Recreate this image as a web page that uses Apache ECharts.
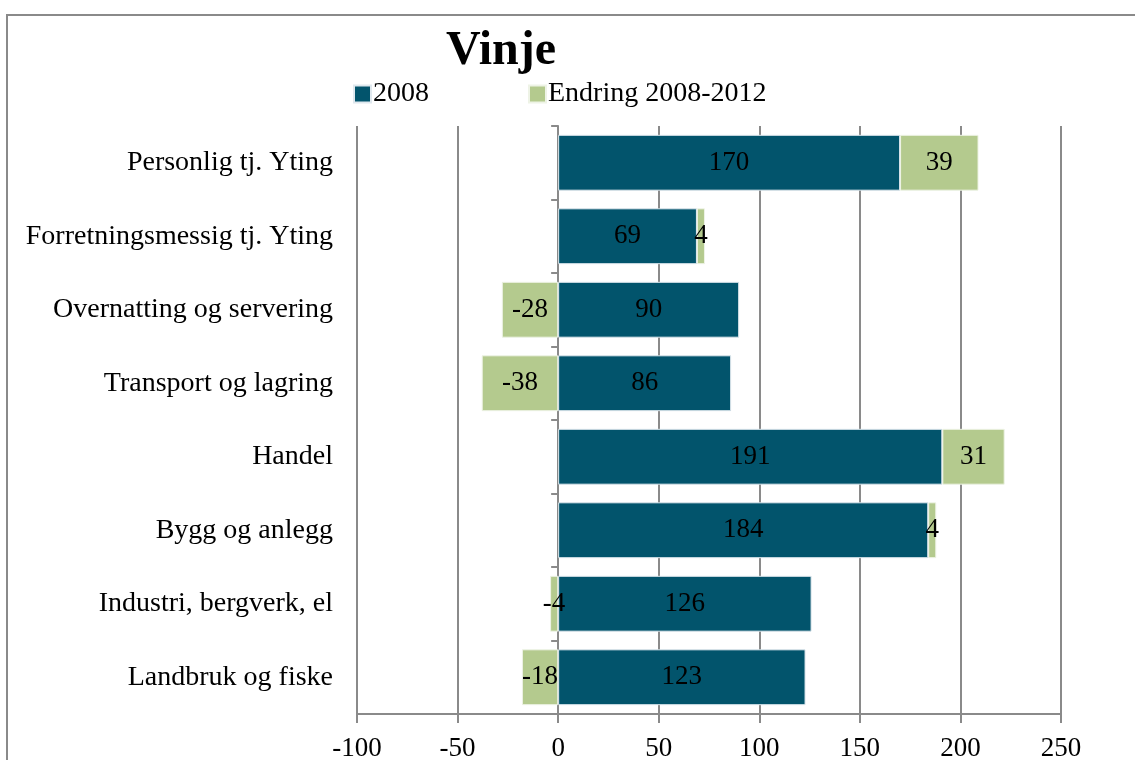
<!DOCTYPE html>
<html><head><meta charset="utf-8">
<script src="https://cdn.jsdelivr.net/npm/echarts@6/dist/echarts.min.js"></script>
<style>html,body{margin:0;padding:0;background:#fff}#c{width:1135px;height:760px}</style>
</head><body><div id="c"></div>
<script>
const categories = ['Personlig tj. Yting','Forretningsmessig tj. Yting','Overnatting og servering','Transport og lagring','Handel','Bygg og anlegg','Industri, bergverk, el','Landbruk og fiske'];
const values2008 = [170, 69, 90, 86, 191, 184, 126, 123];
const valuesChange = [39, 4, -28, -38, 31, 4, -4, -18];
const xTicks = [-100, 250, 50];
const FONT = 'Liberation Serif';
const chart = echarts.init(document.getElementById('c'));
const labelStyle = {show:true, position:'inside', color:'#000', fontFamily:FONT, fontSize:27};
chart.setOption({
  animation:false,
  textStyle:{fontFamily:FONT},
  graphic:[{type:'rect', shape:{x:7,y:15,width:1300,height:900}, style:{fill:'none', stroke:'#8a8a8a', lineWidth:2}, silent:true}],
  title:{text:'Vinje', left:496, textAlign:'center', top:23, textStyle:{fontFamily:FONT, fontSize:48, fontWeight:'bold', color:'#000'}},
  legend:{left:353, top:80, padding:0, itemWidth:17, itemHeight:17, itemGap:99, icon:'rect',
    textStyle:{fontFamily:FONT, fontSize:28, color:'#000', padding:[0,0,0,-3]},
    data:['2008','Endring 2008-2012']},
  grid:{left:357, right:74, top:126, bottom:46, containLabel:false, outerBoundsMode:'none'},
  xAxis:{type:'value', min:xTicks[0], max:xTicks[1], interval:xTicks[2],
    axisLine:{show:true, lineStyle:{color:'#8a8a8a', width:2}},
    axisTick:{show:true, length:9, lineStyle:{color:'#8a8a8a', width:2}},
    axisLabel:{fontFamily:FONT, fontSize:27, color:'#000', margin:21},
    splitLine:{show:true, lineStyle:{color:'#8a8a8a', width:2}}},
  yAxis:[
    {type:'category', data:categories, inverse:true, position:'left',
     axisLine:{show:false, onZero:false}, axisTick:{show:false},
     axisLabel:{fontFamily:FONT, fontSize:28, color:'#000', margin:24}},
    {type:'category', data:categories, inverse:true, position:'left',
     axisLine:{show:true, onZero:true, lineStyle:{color:'#8a8a8a', width:2}},
     axisTick:{show:true, length:7, lineStyle:{color:'#8a8a8a', width:2}},
     axisLabel:{show:false}}
  ],
  series:[
    {name:'2008', type:'bar', stack:'s', data:values2008, barWidth:'76%',
     itemStyle:{color:'#02546C', borderColor:'#dfe8ee', borderWidth:1}, label:labelStyle},
    {name:'Endring 2008-2012', type:'bar', stack:'s', data:valuesChange, barWidth:'76%',
     itemStyle:{color:'#B4CA8E', borderColor:'#eef3e6', borderWidth:1}, label:labelStyle}
  ]
});
</script></body></html>
